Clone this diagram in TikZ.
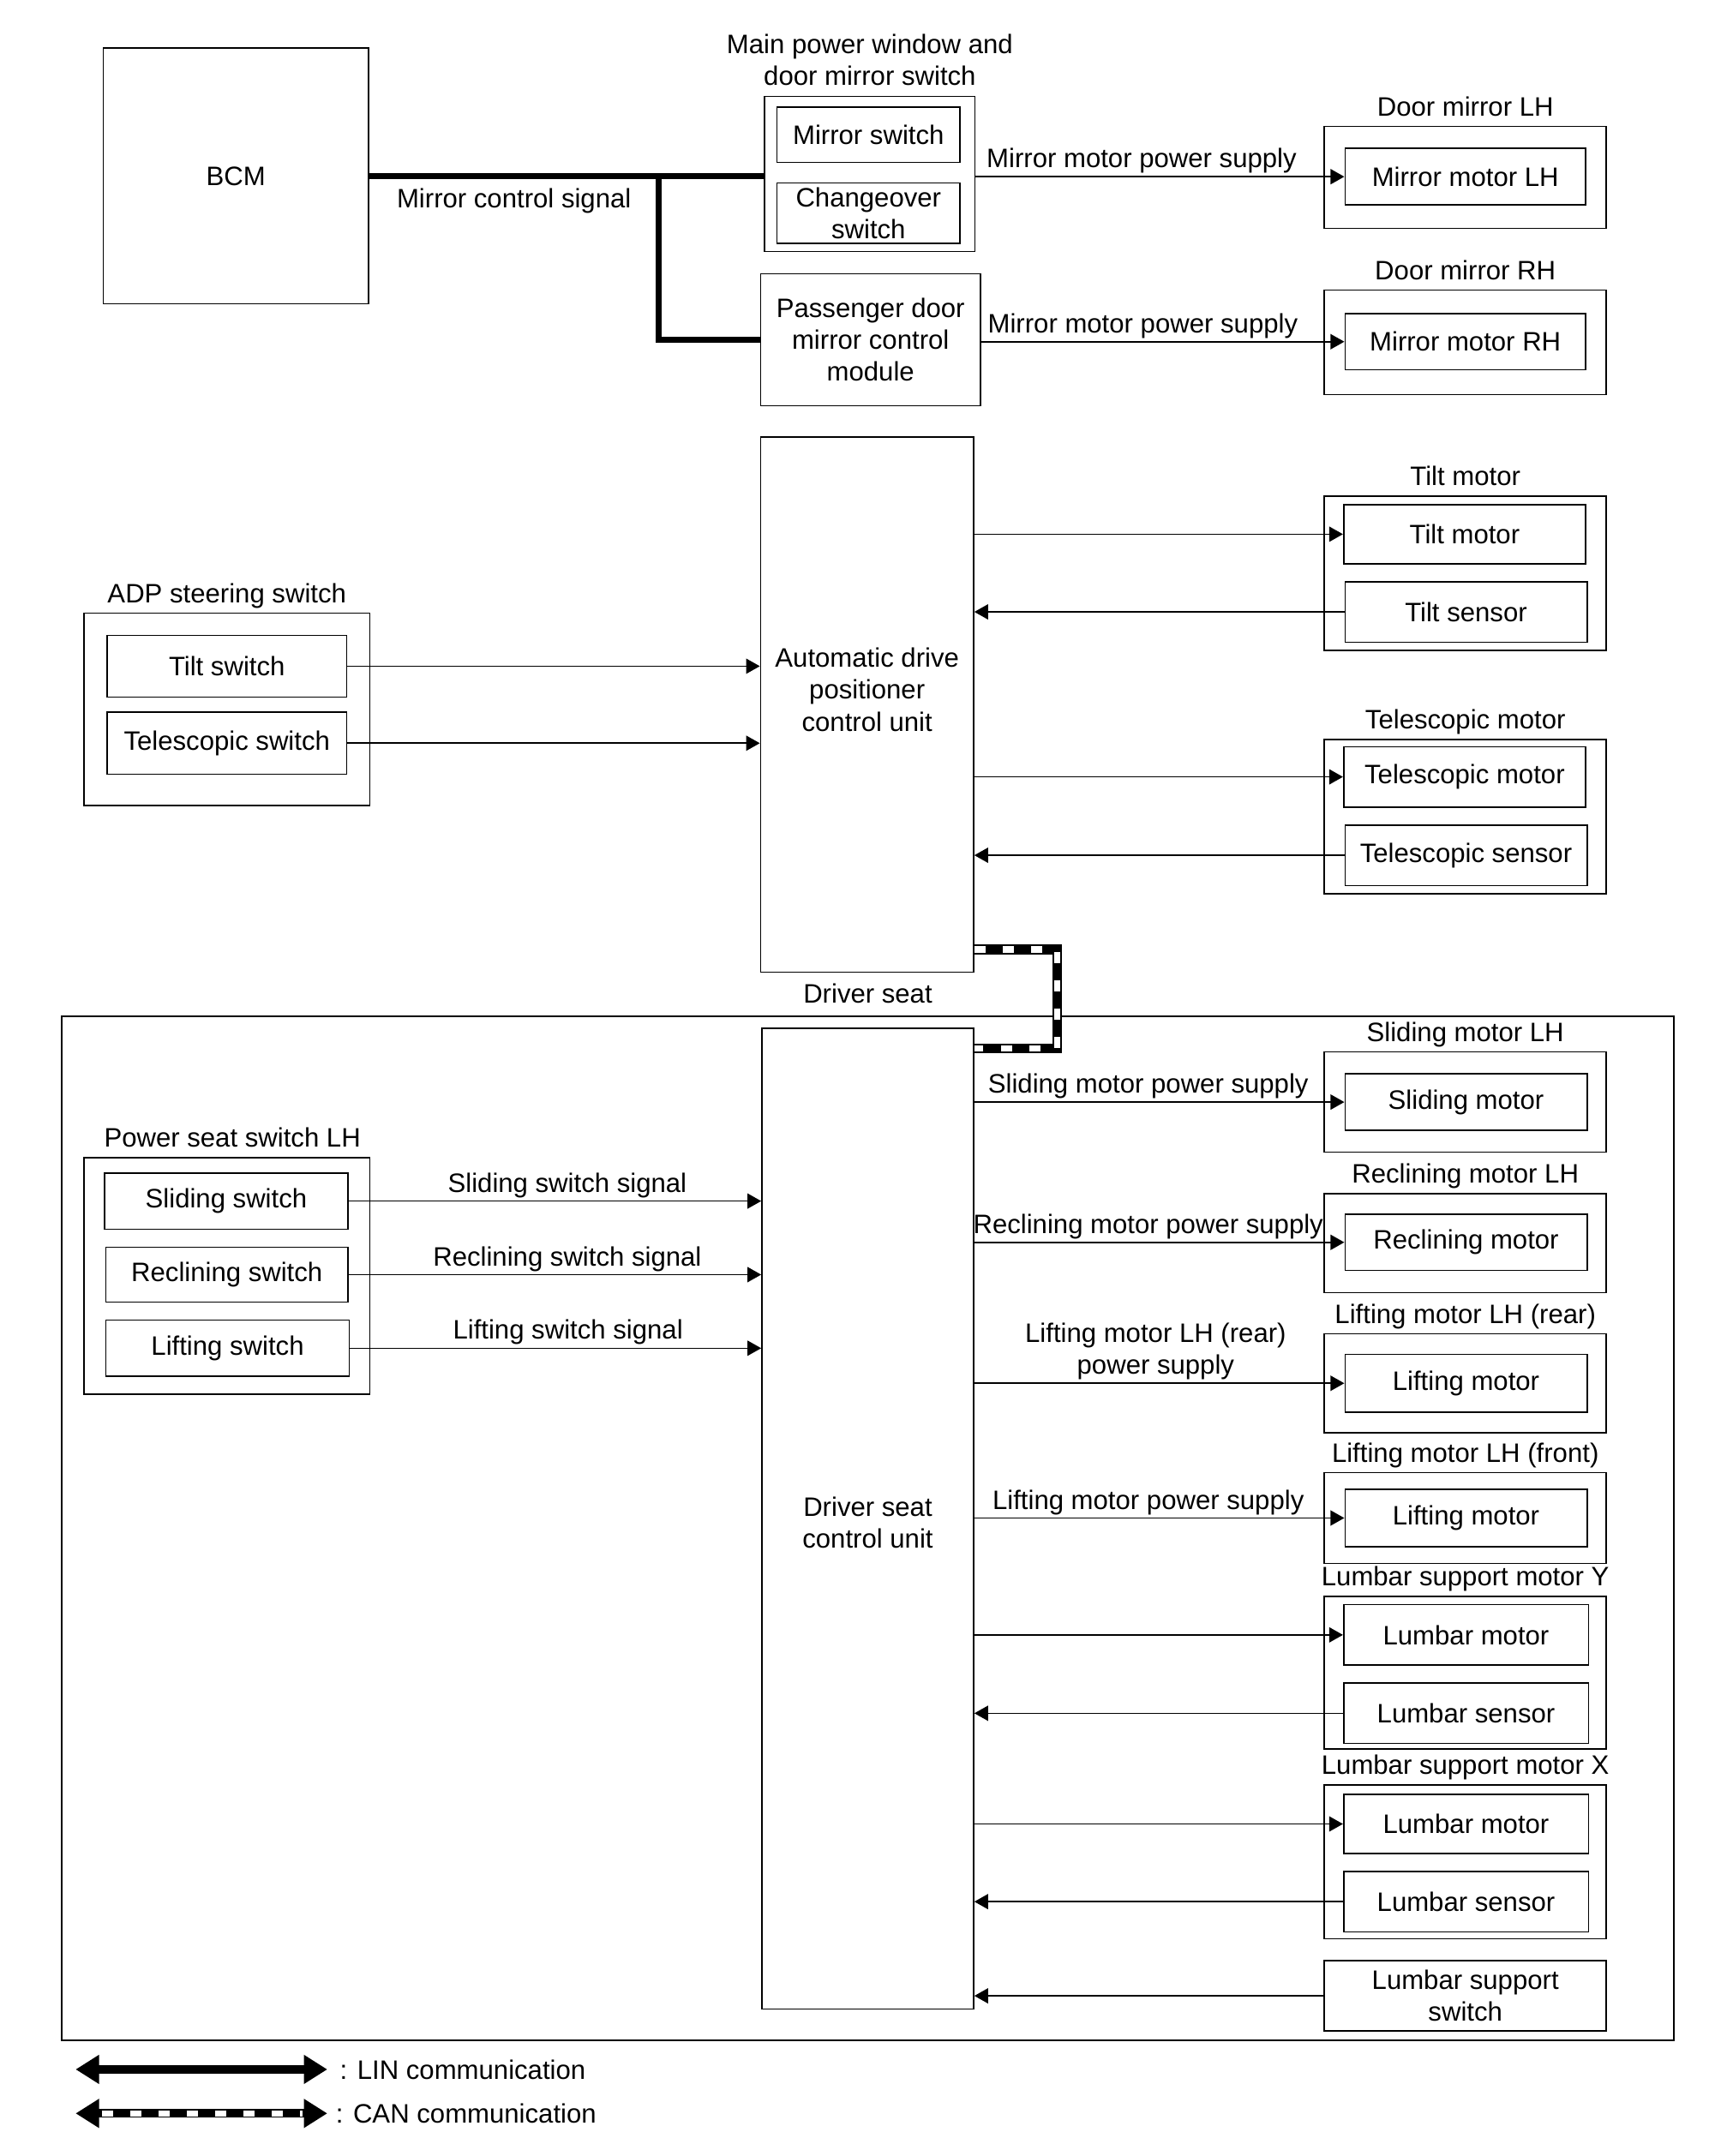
\documentclass[tikz,border=0pt]{standalone}
\usepackage{fontspec}
\setmainfont{Liberation Sans}
\usetikzlibrary{arrows.meta,positioning}
\begin{document}
\begin{tikzpicture}
  [x=1pt, y=-1pt, font=\fontsize{19.4}{23.3}\selectfont,
   box/.style 2 args={draw, line width=1pt, inner sep=0pt, align=center,
     minimum width=#1pt, minimum height=#2pt},
   tag/.style={label={[tag text]above:#1}},
   tag text/.style={inner sep=3pt, text depth=4pt, align=center},
   wire text/.style={above, inner sep=2pt, text depth=4pt, align=center},
   sig/.style={-{Triangle[width=11pt,length=10pt]}, line width=1pt},
   lin line/.style={line width=4.5pt},
   can dash/.style={white, line width=4.5pt, dash pattern=on 8pt off 12.6pt},
   can line/.style={can dash, preaction={draw, black, solid, line width=7pt}},
   lin arrow/.style={{Triangle[width=20pt,length=17pt]}-{Triangle[width=20pt,length=17pt]}, line width=6pt}]
  \useasboundingbox (0,0) rectangle (1260,1568);

  % mirror part
  \node[box={193}{186}] (bcm) at (171.5,128) {BCM};
  \node[box={153}{113}, tag={Main power window and\\door mirror switch}] (mpw) at (632.5,126.5) {};
  \node[box={133}{40}] (ms) at (631.5,98) {Mirror switch};
  \node[box={133}{44}] (cos) at (631.5,155) {Changeover\\switch};
  \node[box={160}{96}] (pdm) at (633,247) {Passenger door\\mirror control\\module};
  \node[box={205}{74}, tag={Door mirror LH}] (dmlh) at (1065.5,129) {};
  \node[box={175}{41}] (mmlh) at (1065.5,128.5) {Mirror motor LH};
  \node[box={205}{76}, tag={Door mirror RH}] (dmrh) at (1065.5,249) {};
  \node[box={175}{41}] (mmrh) at (1065.5,248.5) {Mirror motor RH};
  \coordinate (junc) at (479,128);

  \draw[lin line] (bcm.east) -- node[below=4pt, inner sep=3pt] {Mirror control signal} (junc)
    -- (mpw.west |- junc);
  \draw[lin line] (junc) |- (pdm.west);
  \draw[sig] (mpw.east |- mmlh.west) -- node[wire text, pos=0.45] {Mirror motor power supply} (mmlh.west);
  \draw[sig] (pdm.east |- mmrh.west) -- node[wire text, pos=0.445] {Mirror motor power supply} (mmrh.west);

  % steering part
  \node[box={155}{389}] (adp) at (630.5,512.5) {};
  \node[align=center] (adp txt) at ([yshift=11pt]adp.center) {Automatic drive\\positioner\\control unit};
  \node[box={205}{112}, tag={Tilt motor}] (tm) at (1065.5,417) {};
  \node[box={176}{43}] (tmot) at (1065,388.5) {Tilt motor};
  \node[box={176}{44}] (tsen) at (1066,445) {Tilt sensor};
  \node[box={205}{112}, tag={Telescopic motor}] (telm) at (1065.5,594) {};
  \node[box={176}{44}] (telmot) at (1065,565) {Telescopic motor};
  \node[box={176}{44}] (telsen) at (1066,622) {Telescopic sensor};
  \node[box={208}{140}, tag={ADP steering switch}] (adpsw) at (165,516) {};
  \node[box={174}{45}] (tsw) at (165,484.5) {Tilt switch};
  \node[box={174}{45}] (telsw) at (165,540.5) {Telescopic switch};

  \draw[sig] (adp.east |- tmot.west) -- (tmot.west);
  \draw[sig] (tsen.west) -- (adp.east |- tsen.west);
  \draw[sig] (adp.east |- telmot.west) -- (telmot.west);
  \draw[sig] (telsen.west) -- (adp.east |- telsen.west);
  \draw[sig] (tsw.east) -- (adp.west |- tsw.east);
  \draw[sig] (telsw.east) -- (adp.west |- telsw.east);

  % driver seat part
  \node[box={1172}{745}, label={[tag text, inner sep=5pt]above:Driver seat}] (seat) at (631,1111.5) {};
  \node[box={154}{713}] (dscu) at (631,1104.5) {};
  \node[align=center] (dscu txt) at ([yshift=-3pt]dscu.center) {Driver seat\\control unit};

  \node[box={205}{73}, tag={Sliding motor LH}] (slm) at (1065.5,801.5) {};
  \node[box={176}{41}] (slmot) at (1066,801.5) {Sliding motor};
  \node[box={205}{72}, tag={Reclining motor LH}] (rlm) at (1065.5,904) {};
  \node[box={176}{41}] (rlmot) at (1066,903.5) {Reclining motor};
  \node[box={205}{72}, tag={Lifting motor LH (rear)}] (lmr) at (1065.5,1006) {};
  \node[box={176}{42}] (lrmot) at (1066,1006) {Lifting motor};
  \node[box={205}{66}, tag={Lifting motor LH (front)}] (lmf) at (1065.5,1104) {};
  \node[box={176}{42}] (lfmot) at (1066,1104) {Lifting motor};
  \node[box={205}{111}, tag={Lumbar support motor Y}] (lumy) at (1065.5,1216.5) {};
  \node[box={178}{44}] (lymot) at (1066,1189) {Lumbar motor};
  \node[box={178}{44}] (lysen) at (1066,1246) {Lumbar sensor};
  \node[box={205}{112}, tag={Lumbar support motor X}] (lumx) at (1065.5,1354) {};
  \node[box={178}{43}] (lxmot) at (1066,1326.5) {Lumbar motor};
  \node[box={178}{44}] (lxsen) at (1066,1383) {Lumbar sensor};
  \node[box={205}{51}] (lsw) at (1065.5,1451.5) {Lumbar support\\switch};

  \node[box={208}{172}, label={[tag text, xshift=4pt]above:Power seat switch LH}] (pss) at (165,928) {};
  \node[box={177}{41}] (ssw) at (164.5,873.5) {Sliding switch};
  \node[box={176}{40}] (rsw) at (165,927) {Reclining switch};
  \node[box={177}{41}] (lsw2) at (165.5,980.5) {Lifting switch};

  \draw[sig] (dscu.east |- slmot.west) -- node[wire text, pos=0.47] {Sliding motor power supply} (slmot.west);
  \draw[sig] (dscu.east |- rlmot.west) -- node[wire text, pos=0.47] {Reclining motor power supply} (rlmot.west);
  \draw[sig] (dscu.east |- lrmot.west) -- node[wire text, pos=0.49] {Lifting motor LH (rear)\\power supply} (lrmot.west);
  \draw[sig] (dscu.east |- lfmot.west) -- node[wire text, pos=0.47] {Lifting motor power supply} (lfmot.west);
  \draw[sig] (dscu.east |- lymot.west) -- (lymot.west);
  \draw[sig] (lysen.west) -- (dscu.east |- lysen.west);
  \draw[sig] (dscu.east |- lxmot.west) -- (lxmot.west);
  \draw[sig] (lxsen.west) -- (dscu.east |- lxsen.west);
  \draw[sig] (lsw.west) -- (dscu.east |- lsw.west);

  \draw[sig] (ssw.east) -- node[wire text, pos=0.53] {Sliding switch signal} (dscu.west |- ssw.east);
  \draw[sig] (rsw.east) -- node[wire text, pos=0.53] {Reclining switch signal} (dscu.west |- rsw.east);
  \draw[sig] (lsw2.east) -- node[wire text, pos=0.53] {Lifting switch signal} (dscu.west |- lsw2.east);

  % CAN link
  \draw[can line] ([yshift=17pt]adp.south east) -- ++(60,0) |- ([yshift=-15pt]dscu.north east);

  % legend
  \coordinate (lin a) at (55,1505);
  \coordinate (lin b) at (238,1505);
  \coordinate (can a) at (55,1537);
  \coordinate (can b) at (238,1537);
  \draw[lin arrow] (lin a) -- (lin b);
  \draw[lin arrow] (can a) -- (can b);
  \draw[white, line width=4.5pt, dash pattern=on 8pt off 12.6pt, shorten <=19pt, shorten >=18pt] (can a) -- (can b);
  \node[right=9pt of lin b, inner sep=0pt] (lin txt) {: LIN communication};
  \node[right=6pt of can b, inner sep=0pt] (can txt) {: CAN communication};
\end{tikzpicture}
\end{document}
